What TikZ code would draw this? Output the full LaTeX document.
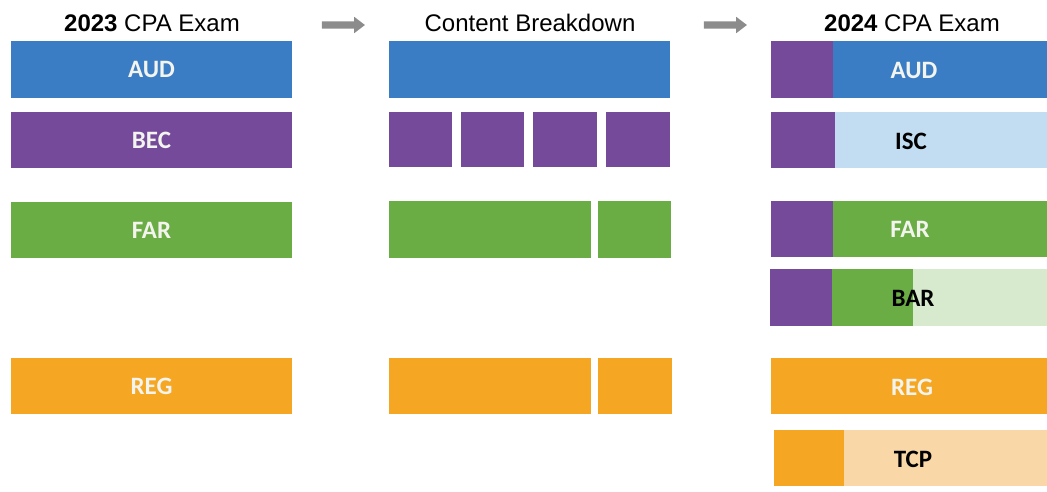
\documentclass[tikz,border=0pt]{standalone}
\usepackage{fontspec}
\setmainfont{Liberation Sans}
\newfontfamily\calfont{Carlito}
\usetikzlibrary{shapes.arrows}
\definecolor{cBlue}{HTML}{3A7DC4}
\definecolor{cPurple}{HTML}{754A9B}
\definecolor{cGreen}{HTML}{6AAD45}
\definecolor{cOrange}{HTML}{F5A623}
\definecolor{cLBlue}{HTML}{C2DDF1}
\definecolor{cLGreen}{HTML}{D7EACD}
\definecolor{cLOrange}{HTML}{FAD7A6}
\definecolor{cArrow}{HTML}{8C8C8C}
\definecolor{cText}{HTML}{F4F4EE}
\tikzset{
  blk/.style={draw=none, inner sep=0pt, outer sep=0pt, anchor=north west},
  lbl/.style={font=\calfont\bfseries\fontsize{25}{25}\selectfont, inner sep=0pt},
  wlbl/.style={lbl, text=cText},
  klbl/.style={lbl, text=black},
  hdr/.style={font=\fontsize{24}{24}\selectfont, inner sep=0pt},
  garrow/.style={single arrow, fill=cArrow, draw=none, inner xsep=0pt, inner ysep=3.5pt,
    text height=0pt, text depth=0pt, text width=0pt,
    minimum height=43pt, single arrow head extend=4.5pt, single arrow tip angle=75},
}
\newcommand{\bx}[6]{\node[blk, fill=#2, minimum width=#5pt, minimum height=#6pt] (#1) at (#3,#4) {};}
\begin{document}
\begin{tikzpicture}[x=1pt,y=-1pt]
\useasboundingbox (0,0) rectangle (1047,491);
% headers
\node[hdr] (h1) at (152,23) {\textbf{2023} CPA Exam};
\node[hdr] (h2) at (530,23) {Content Breakdown};
\node[hdr] (h3) at (912,23) {\textbf{2024} CPA Exam};
\node[garrow] (a1) at (341,25) {};
\node[garrow] (a2) at (723,25) {};
% left column
\bx{lAUD}{cBlue}{11}{41}{281}{57}
\bx{lBEC}{cPurple}{11}{112}{281}{56}
\bx{lFAR}{cGreen}{11}{202}{281}{56}
\bx{lREG}{cOrange}{11}{358}{281}{56}
\node[wlbl] (tlAUD) at (lAUD.center) {AUD};
\node[wlbl] (tlBEC) at (lBEC.center) {BEC};
\node[wlbl] (tlFAR) at (lFAR.center) {FAR};
\node[wlbl] (tlREG) at (lREG.center) {REG};
% middle column
\bx{mAUD}{cBlue}{389}{41}{281}{57}
\bx{mB1}{cPurple}{389}{112}{63}{55}
\bx{mB2}{cPurple}{461}{112}{63}{55}
\bx{mB3}{cPurple}{533}{112}{64}{55}
\bx{mB4}{cPurple}{606}{112}{64}{55}
\bx{mF1}{cGreen}{389}{201}{202}{57}
\bx{mF2}{cGreen}{598}{201}{73}{57}
\bx{mR1}{cOrange}{389}{358}{202}{56}
\bx{mR2}{cOrange}{598}{358}{74}{56}
% right column
\bx{rA1}{cPurple}{771}{41}{63}{57}
\bx{rA2}{cBlue}{833}{41}{214}{57}
\bx{rI1}{cPurple}{771}{112}{65}{56}
\bx{rI2}{cLBlue}{835}{112}{212}{56}
\bx{rF1}{cPurple}{771}{201}{63}{56}
\bx{rF2}{cGreen}{833}{201}{214}{56}
\bx{rB1}{cPurple}{770}{269}{63}{57}
\bx{rB2}{cGreen}{832}{269}{82}{57}
\bx{rB3}{cLGreen}{913}{269}{134}{57}
\bx{rR}{cOrange}{771}{358}{276}{56}
\bx{rT1}{cOrange}{774}{430}{71}{56}
\bx{rT2}{cLOrange}{844}{430}{203}{56}
\node[wlbl] (trAUD) at (914,70) {AUD};
\node[klbl] (trISC) at (911,141) {ISC};
\node[wlbl] (trFAR) at (910,229) {FAR};
\node[klbl] (trBAR) at (913,298) {BAR};
\node[wlbl] (trREG) at (912,387) {REG};
\node[klbl] (trTCP) at (913,459) {TCP};
\end{tikzpicture}
\end{document}
